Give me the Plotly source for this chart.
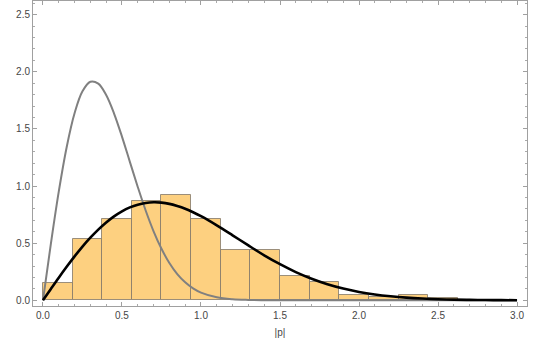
import plotly.graph_objects as go

# histogram of |p| (density), bins of width 3/16 starting at 0
bin_left = [0.0, 0.1875, 0.375, 0.5625, 0.75, 0.9375, 1.125, 1.3125,
            1.5, 1.6875, 1.875, 2.0625, 2.25, 2.4375]
bin_height = [0.155, 0.54, 0.71, 0.87, 0.925, 0.715, 0.44, 0.44,
              0.21, 0.16, 0.05, 0.032, 0.05, 0.02]
bin_width = 0.1875

# black curve
black_x = [0.0, 0.05, 0.1, 0.15, 0.2, 0.25, 0.3, 0.35, 0.4, 0.45, 0.5, 0.55, 0.6,
           0.65, 0.7, 0.75, 0.8, 0.85, 0.9, 0.95, 1.0, 1.1, 1.2, 1.3, 1.4, 1.5,
           1.6, 1.7, 1.8, 1.9, 2.0, 2.1, 2.2, 2.3, 2.4, 2.5, 2.6, 2.7, 2.8, 2.9, 3.0]
black_y = [0.0, 0.0998, 0.198, 0.293, 0.384, 0.470, 0.548, 0.619, 0.682, 0.735,
           0.779, 0.813, 0.837, 0.852, 0.858, 0.855, 0.844, 0.825, 0.801, 0.771,
           0.736, 0.656, 0.569, 0.480, 0.394, 0.316, 0.247, 0.189, 0.141, 0.103,
           0.073, 0.051, 0.035, 0.023, 0.015, 0.0097, 0.006, 0.0037, 0.002,
           0.0013, 0.0007]

# gray curve
gray_x = [0.0, 0.05, 0.1, 0.15, 0.2, 0.25, 0.3, 0.35, 0.4, 0.45, 0.5, 0.55, 0.6,
          0.65, 0.7, 0.75, 0.8, 0.85, 0.9, 0.95, 1.0, 1.1, 1.2, 1.3, 1.4, 1.5,
          2.0, 2.5, 3.0]
gray_y = [0.0, 0.494, 0.951, 1.340, 1.637, 1.829, 1.913, 1.897, 1.797, 1.635,
          1.433, 1.212, 0.992, 0.786, 0.604, 0.451, 0.326, 0.229, 0.157, 0.104,
          0.067, 0.026, 0.009, 0.003, 0.0008, 0.0, 0.0, 0.0, 0.0]

fig = go.Figure()

fig.add_trace(go.Bar(
    x=bin_left, y=bin_height, width=bin_width, offset=0,
    marker=dict(color='rgb(253,208,128)',
                line=dict(color='rgba(130,120,105,0.8)', width=1)),
    showlegend=False, hoverinfo='skip'
))

fig.add_trace(go.Scatter(
    x=gray_x, y=gray_y, mode='lines', line_shape='spline',
    line=dict(color='rgb(128,128,128)', width=2), showlegend=False
))

fig.add_trace(go.Scatter(
    x=black_x, y=black_y, mode='lines', line_shape='spline',
    line=dict(color='black', width=2.6), showlegend=False
))

axis_style = dict(
    showline=True, linecolor='rgb(160,160,160)', linewidth=1, mirror='ticks',
    ticks='inside', ticklen=4, tickcolor='rgb(160,160,160)',
    showgrid=False, zeroline=False, dtick=0.5, tickformat='.1f',
    tickfont=dict(size=10, color='rgb(70,70,70)'),
    minor=dict(ticks='inside', ticklen=2, dtick=0.1, tickcolor='rgb(170,170,170)',
               showgrid=False)
)

fig.update_xaxes(range=[-0.063, 3.063], tick0=0,
                 title=dict(text='|p|', font=dict(size=10, color='rgb(70,70,70)'),
                            standoff=8),
                 **axis_style)
fig.update_yaxes(range=[-0.05, 2.62], tick0=0, **axis_style)

fig.update_layout(
    width=545, height=338,
    margin=dict(l=33, r=18, t=1, b=32),
    plot_bgcolor='white', paper_bgcolor='white',
    font=dict(family='Liberation Sans, Arial, sans-serif'),
    bargap=0
)

# drop the page's default body margin so the figure sits at the window corner
fig.write_html("out.html", config={'displayModeBar': False},
               post_script="document.body.style.margin='0';")
